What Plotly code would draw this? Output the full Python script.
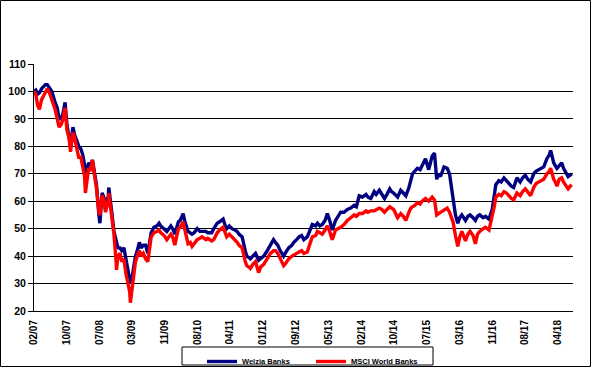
import plotly.graph_objects as go

dates = [
    "2007-02-01", "2007-02-15", "2007-03-01", "2007-03-15", "2007-04-01", "2007-05-01", "2007-05-15",
    "2007-06-01", "2007-06-20", "2007-07-15", "2007-08-01", "2007-08-15", "2007-09-01", "2007-09-15",
    "2007-10-01", "2007-10-15", "2007-11-01", "2007-11-12", "2007-12-01", "2007-12-15", "2008-01-01",
    "2008-01-15", "2008-02-01", "2008-02-15", "2008-03-01", "2008-03-07", "2008-03-18", "2008-04-01",
    "2008-04-15", "2008-05-01", "2008-05-15", "2008-06-01", "2008-06-20", "2008-06-28", "2008-07-15",
    "2008-08-01", "2008-08-10", "2008-09-01", "2008-09-05", "2008-09-20", "2008-10-01", "2008-10-15",
    "2008-11-01", "2008-11-04", "2008-11-15", "2008-12-01", "2008-12-15", "2009-01-01", "2009-01-15",
    "2009-02-01", "2009-02-15", "2009-02-20", "2009-03-01", "2009-03-18", "2009-04-01", "2009-04-15",
    "2009-05-01", "2009-05-15", "2009-06-01", "2009-06-18", "2009-07-06", "2009-08-01", "2009-08-22",
    "2009-09-15", "2009-10-01", "2009-10-15", "2009-11-10", "2009-12-01", "2010-01-01", "2010-01-15",
    "2010-02-01", "2010-02-15", "2010-03-01", "2010-03-15", "2010-04-07", "2010-04-18", "2010-05-01",
    "2010-05-15", "2010-06-01", "2010-06-15", "2010-07-01", "2010-07-25", "2010-08-15", "2010-09-01",
    "2010-10-01", "2010-10-15", "2010-11-15", "2010-12-01", "2010-12-28", "2011-01-15", "2011-02-12",
    "2011-03-01", "2011-03-12", "2011-04-01", "2011-04-22", "2011-05-15", "2011-06-01", "2011-06-15",
    "2011-07-10", "2011-08-03", "2011-08-15", "2011-09-01", "2011-09-12", "2011-10-01", "2011-10-22",
    "2011-11-15", "2011-12-01", "2011-12-25", "2012-01-15", "2012-02-01", "2012-02-15", "2012-03-10",
    "2012-03-25", "2012-04-12", "2012-05-01", "2012-05-28", "2012-06-15", "2012-07-06", "2012-08-01",
    "2012-08-15", "2012-09-06", "2012-09-25", "2012-10-15", "2012-11-01", "2012-11-28", "2012-12-15",
    "2013-01-06", "2013-02-01", "2013-02-15", "2013-03-06", "2013-03-25", "2013-04-15", "2013-05-03",
    "2013-05-21", "2013-06-10", "2013-07-06", "2013-08-01", "2013-08-15", "2013-09-10", "2013-10-06",
    "2013-11-01", "2013-11-28", "2013-12-15", "2014-01-06", "2014-02-01", "2014-02-28", "2014-03-15",
    "2014-04-06", "2014-05-03", "2014-05-18", "2014-06-12", "2014-07-01", "2014-07-22", "2014-08-10",
    "2014-09-01", "2014-09-15", "2014-10-01", "2014-11-01", "2014-11-25", "2014-12-15", "2015-01-04",
    "2015-01-28", "2015-02-12", "2015-02-25", "2015-03-15", "2015-04-04", "2015-04-25", "2015-05-10",
    "2015-06-06", "2015-07-01", "2015-07-15", "2015-07-28", "2015-08-15", "2015-09-01", "2015-09-15",
    "2015-10-01", "2015-10-28", "2015-11-22", "2015-12-10", "2015-12-18", "2016-01-06", "2016-01-25",
    "2016-02-12", "2016-02-28", "2016-03-15", "2016-04-01", "2016-04-12", "2016-05-01", "2016-05-18",
    "2016-06-10", "2016-06-28", "2016-07-15", "2016-08-01", "2016-08-28", "2016-09-15", "2016-10-12",
    "2016-11-06", "2016-11-22", "2016-12-04", "2016-12-28", "2017-01-15", "2017-02-06", "2017-02-25",
    "2017-03-15", "2017-04-04", "2017-04-22", "2017-05-18", "2017-06-12", "2017-07-01", "2017-07-22",
    "2017-08-10", "2017-09-01", "2017-09-25", "2017-10-15", "2017-11-04", "2017-11-22", "2017-12-12",
    "2018-01-06", "2018-01-25", "2018-02-04", "2018-02-15", "2018-02-28", "2018-03-12", "2018-03-25",
    "2018-04-12", "2018-05-01", "2018-05-15", "2018-05-28", "2018-06-08", "2018-06-20", "2018-07-06",
    "2018-07-18",
]

welzia_banks = [
    100, 100.5, 99, 99.5, 101, 102.5, 102.5,
    101.5, 100, 96, 94, 90, 90, 92,
    96, 88, 84, 80, 87, 84, 82,
    80, 79, 77, 73, 70, 71, 74,
    73, 75, 71, 66, 55, 52, 63,
    61, 57, 62, 65, 60, 55, 49,
    45, 44, 43, 43, 42, 43, 39,
    35, 32, 30, 31, 36, 40, 42,
    45, 43, 44, 44, 41, 48.5, 50.5,
    51, 52, 51, 50, 49, 51, 50,
    48, 50, 52.5, 53, 55.5, 53, 51,
    49, 48.5, 48, 48.5, 50, 49, 49,
    49, 48.5, 48.5, 50, 52, 52.5, 53.5,
    51, 50, 51, 50, 49.5, 49, 48,
    47, 42, 40, 39.5, 39, 40, 41,
    38.5, 39, 40, 41.5, 43, 44, 46,
    45, 44, 42, 40, 41.5, 43, 44,
    45, 46, 47, 47.5, 46, 47, 49,
    51.5, 51, 52, 51, 51.5, 53, 55.5,
    53, 49.5, 53, 55, 56, 56, 57,
    57.5, 58.5, 58, 62, 61.5, 62.5, 61.5,
    61, 63.5, 62.5, 64, 62.5, 61, 62.5,
    64.5, 63.5, 63, 61.5, 64, 63, 62,
    65, 68, 70, 71, 72, 71.5, 73,
    75.5, 71.5, 74.5, 76.5, 77.5, 68, 70,
    69, 72.5, 72, 70, 67.5, 62, 55,
    52, 54, 55, 54, 53, 54.5, 55,
    54, 53, 54.5, 55, 54, 54.5, 53.5,
    57, 62, 66, 67.5, 67, 68.5, 67.5,
    66.5, 65.5, 65, 68.5, 67, 68.5, 69.5,
    68, 67, 70, 71, 71.5, 72, 72.5,
    75.5, 77, 78.5, 76, 74, 73, 72,
    73, 74, 72, 71, 70, 69, 69.5,
    70,
]

msci_world_banks = [
    100, 99, 95, 93.5, 97, 100, 101,
    99.5, 97, 93.5, 90, 87, 88, 90,
    94, 86, 83, 78, 85, 83, 79,
    76, 76, 73, 69, 63, 67, 72,
    71, 75, 70, 65, 56, 55, 62,
    60, 56, 60, 63, 58, 53, 48,
    38, 35, 40, 41, 38, 39, 34,
    30, 27, 23, 26, 33, 38, 40,
    42, 40, 41, 39, 38, 47, 48.5,
    49, 49.5, 48.5, 47.5, 46, 48, 47,
    44, 47, 50, 50.5, 52.5, 50, 47,
    44.5, 45, 43.5, 44.5, 46, 46.5, 47,
    46, 46.5, 45.5, 46, 48.5, 49.5, 50.5,
    48, 47, 48, 47, 46, 45, 44,
    43, 38, 36.5, 36, 35.5, 37, 38,
    34, 36, 37, 38.5, 40, 41, 42,
    42, 41, 39, 36.5, 37.5, 39, 40,
    40.5, 41, 41.5, 42, 41, 41.5, 44,
    47, 47.5, 49, 48.5, 48, 49.5, 51,
    49, 46, 49.5, 50, 50.5, 51.5, 53,
    54, 55, 54.5, 55.5, 55.5, 56.5, 56,
    56.5, 56.5, 57, 57.5, 57, 56, 57,
    58, 57.5, 57, 54, 55.5, 54.5, 53,
    56, 57.5, 58, 58.5, 59.5, 59, 60,
    61, 60, 61, 61.5, 60.5, 55, 55.5,
    56, 57, 57.5, 56, 55, 52.5, 47.5,
    43.5, 47, 49, 47, 45.5, 48, 49,
    47.5, 44.5, 48, 49, 50, 50.5, 49.5,
    54, 58, 61.5, 62.5, 62, 63.5, 63,
    62, 61, 60.5, 63, 62, 63.5, 64.5,
    63.5, 62, 65, 66.5, 67, 67.5, 68,
    70, 71, 72, 70, 68, 67, 65.5,
    68, 68.5, 67, 66, 65.5, 64.5, 65.5,
    66,
]

tick_dates = [
    "2007-02-01", "2007-10-12", "2008-06-23", "2009-03-05", "2009-11-16", "2010-07-27",
    "2011-04-08", "2011-12-20", "2012-09-01", "2013-05-12", "2014-01-24", "2014-10-05",
    "2015-06-16", "2016-02-28", "2016-11-08", "2017-07-20", "2018-04-01",
]
tick_labels = [
    "02/07", "10/07", "07/08", "03/09", "11/09", "08/10", "04/11", "01/12", "09/12",
    "05/13", "02/14", "10/14", "07/15", "03/16", "11/16", "08/17", "04/18",
]
mark_dates = [
    "2007-02-01", "2008-02-04", "2009-02-04", "2010-02-04", "2011-02-04", "2012-02-04",
    "2013-02-07", "2014-02-07", "2015-02-07", "2016-02-07", "2017-02-12", "2018-02-12",
]
y_ticks = [20, 30, 40, 50, 60, 70, 80, 90, 100, 110]

x_range = ["2007-02-01", "2018-07-28"]
FONT = "Liberation Sans, Arial, sans-serif"

fig = go.Figure()
fig.add_trace(go.Scatter(x=dates, y=welzia_banks, mode="lines", name="Welzia Banks",
                         line=dict(color="#000080", width=3.4)))
fig.add_trace(go.Scatter(x=dates, y=msci_world_banks, mode="lines", name="MSCI World Banks",
                         line=dict(color="#FF0000", width=3.4)))

W, H = 592, 368
L, R, T, B = 34, 19, 64, 57
pw, ph = W - L - R, H - T - B


def px_x(p):
    return (p - L) / pw


def px_y(p):
    return (H - B - p) / ph


fig.update_layout(
    width=W, height=H,
    margin=dict(l=L, r=R, t=T, b=B, autoexpand=False),
    paper_bgcolor="white", plot_bgcolor="white",
    font=dict(family=FONT, color="black"),
    showlegend=True,
    legend=dict(orientation="h", x=px_x(202), y=px_y(347), xanchor="left", yanchor="top",
                font=dict(size=7.5, family=FONT, weight="bold"),
                bgcolor="rgba(0,0,0,0)", borderwidth=0,
                entrywidth=64, tracegroupgap=0),
    xaxis=dict(type="date", range=x_range, tickvals=tick_dates, ticktext=tick_labels,
               tickangle=-90, ticks="outside", ticklen=4, tickcolor="rgba(0,0,0,0)",
               tickfont=dict(size=10, family=FONT, weight="bold"),
               showgrid=False, showline=True, linecolor="black", linewidth=1,
               zeroline=False),
    xaxis2=dict(type="date", range=x_range, overlaying="x", anchor="y", side="bottom",
                tickvals=mark_dates, ticks="outside", ticklen=5, tickcolor="black",
                showticklabels=False, showgrid=False, showline=False, zeroline=False),
    yaxis=dict(range=[20, 110], tickvals=y_ticks, ticks="outside", ticklen=5, tickcolor="black",
               tickfont=dict(size=10.5, family=FONT, weight="bold"),
               showgrid=True, gridcolor="black", gridwidth=1,
               showline=True, linecolor="black", linewidth=1, zeroline=False),
    shapes=[
        dict(type="rect", xref="paper", yref="paper",
             x0=px_x(0.5), x1=px_x(590.5), y0=px_y(366.5), y1=px_y(0.5),
             line=dict(color="black", width=1), fillcolor="rgba(0,0,0,0)", layer="below"),
        dict(type="rect", xref="paper", yref="paper",
             x0=px_x(182), x1=px_x(433), y0=px_y(365), y1=px_y(347),
             line=dict(color="black", width=1), fillcolor="rgba(0,0,0,0)", layer="below"),
    ],
)

fig.write_html("out.html", config={"displayModeBar": False},
               post_script="document.body.style.margin='0';")
